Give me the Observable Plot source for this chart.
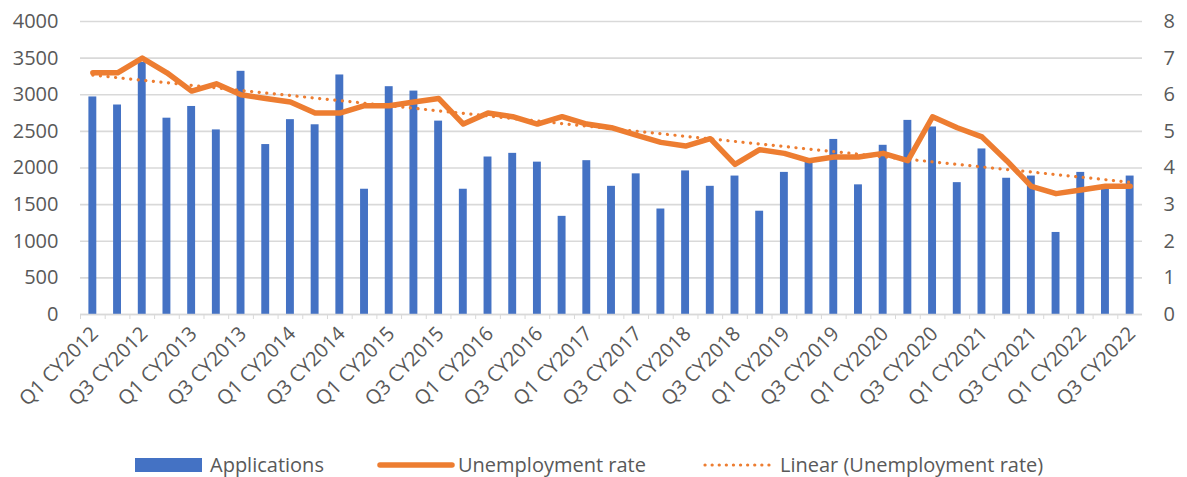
<!DOCTYPE html>
<html><head><meta charset="utf-8">
<script src="https://cdn.jsdelivr.net/npm/d3@7"></script>
<script src="https://cdn.jsdelivr.net/npm/@observablehq/plot@0.6"></script>
<style>
html,body{margin:0;background:#fff;font-family:"Open Sans",sans-serif;overflow:hidden;}
#chart svg{max-width:none;display:block;}
#legend{position:relative;height:29px;font-size:20px;color:#595959;}
.item{position:absolute;top:5px;height:24px;line-height:24px;display:flex;align-items:center;white-space:nowrap;}
</style></head><body><div id="chart"></div><div id="legend"></div>
<script>
const quarters = ["Q1 CY2012","Q2 CY2012","Q3 CY2012","Q4 CY2012","Q1 CY2013","Q2 CY2013","Q3 CY2013","Q4 CY2013",
"Q1 CY2014","Q2 CY2014","Q3 CY2014","Q4 CY2014","Q1 CY2015","Q2 CY2015","Q3 CY2015","Q4 CY2015",
"Q1 CY2016","Q2 CY2016","Q3 CY2016","Q4 CY2016","Q1 CY2017","Q2 CY2017","Q3 CY2017","Q4 CY2017",
"Q1 CY2018","Q2 CY2018","Q3 CY2018","Q4 CY2018","Q1 CY2019","Q2 CY2019","Q3 CY2019","Q4 CY2019",
"Q1 CY2020","Q2 CY2020","Q3 CY2020","Q4 CY2020","Q1 CY2021","Q2 CY2021","Q3 CY2021","Q4 CY2021",
"Q1 CY2022","Q2 CY2022","Q3 CY2022"];
const applications = [2970,2860,3440,2680,2840,2520,3320,2320,2660,2590,
3270,1710,3110,3050,2640,1710,2150,2200,2080,1340,
2100,1750,1920,1440,1960,1750,1890,1410,1940,2080,
2390,1770,2310,2650,2560,1800,2260,1860,1890,1120,
1940,1730,1890];
const unemploymentRate = [6.6,6.6,7.0,6.6,6.1,6.3,6.0,5.9,5.8,5.5,
5.5,5.7,5.7,5.8,5.9,5.2,5.5,5.4,5.2,5.4,
5.2,5.1,4.9,4.7,4.6,4.8,4.1,4.5,4.4,4.2,
4.3,4.3,4.4,4.2,5.4,5.1,4.85,4.2,3.5,3.3,
3.4,3.5,3.5];
const leftTicks = [0,500,1000,1500,2000,2500,3000,3500,4000];
const rightTicks = [0,1,2,3,4,5,6,7,8];
const labelTicks = quarters.filter((d,i)=>i%2===0);
const seriesNames = ["Applications","Unemployment rate","Linear (Unemployment rate)"];
const rateToLeft = 500;

const blue = "#4472C4", orange = "#ED7D31", grid = "#d9d9d9", text = "#595959";

const data = quarters.map((q,i)=>({q, i, apps: applications[i], rate: unemploymentRate[i]}));
// least-squares linear trend of the unemployment rate (as Excel's "Linear" trendline)
const mx = d3.mean(data, d=>d.i), my = d3.mean(data, d=>d.rate);
const slope = d3.sum(data, d=>(d.i-mx)*(d.rate-my)) / d3.sum(data, d=>(d.i-mx)**2);
const intercept = my - slope*mx;
data.forEach(d => d.trend = intercept + slope*d.i);

const W = 1187, ML = 80, MR = 45;
const step = (W - ML - MR) / quarters.length;

const chart = Plot.plot({
  width: W, height: 448,
  marginTop: 21, marginLeft: ML, marginRight: MR, marginBottom: 134,
  style: {fontFamily: "Open Sans", fontSize: "20px", color: text, background: "#fff", overflow: "visible"},
  x: {type: "band", domain: quarters, paddingInner: 0.68, paddingOuter: 0.34, round: false, axis: null},
  y: {domain: [0, 4000], axis: null},
  marks: [
    Plot.gridY(leftTicks, {stroke: grid, strokeOpacity: 1, strokeWidth: 1.6}),
    Plot.axisY(leftTicks, {anchor: "left", tickSize: 0, tickPadding: 22, fill: text, label: null, tickFormat: d => String(d)}),
    Plot.axisY(rightTicks.map(v => v*rateToLeft), {anchor: "right", tickSize: 0, tickPadding: 21, fill: text, label: null, tickFormat: d => String(d/rateToLeft)}),
    Plot.barY(data, {x: "q", y: "apps", fill: blue}),
    Plot.ruleY([0], {stroke: grid, strokeWidth: 1.6}),
    Plot.axisX({tickSize: 5, tickFormat: () => "", dx: -step/2, stroke: grid, label: null}),
    Plot.axisX(labelTicks, {tickSize: 0, tickRotate: -45, tickPadding: 16, dx: 2, fill: text, label: null}),
    Plot.line(data, {x: "q", y: d => d.rate*rateToLeft, stroke: orange, strokeWidth: 5.5, strokeLinejoin: "round", strokeLinecap: "round"}),
    Plot.line(data, {x: "q", y: d => d.trend*rateToLeft, stroke: orange, strokeWidth: 3.2, strokeDasharray: "0.1 7.5", strokeLinecap: "round"})
  ]
});
document.getElementById("chart").appendChild(chart);

const legend = d3.select("#legend");
const i1 = legend.append("div").attr("class","item").style("left","135px");
i1.append("div").style("width","67px").style("height","14px").style("background",blue).style("margin-right","8px");
i1.append("span").text(seriesNames[0]);
const i2 = legend.append("div").attr("class","item").style("left","377px");
const s2 = i2.append("svg").attr("width",78).attr("height",10).style("margin-right","3px");
s2.append("line").attr("x1",3).attr("x2",75).attr("y1",5).attr("y2",5).attr("stroke",orange).attr("stroke-width",5.5).attr("stroke-linecap","round");
i2.append("span").text(seriesNames[1]);
const i3 = legend.append("div").attr("class","item").style("left","703px");
const s3 = i3.append("svg").attr("width",68).attr("height",10).style("margin-right","9px");
s3.append("line").attr("x1",2).attr("x2",66).attr("y1",5).attr("y2",5).attr("stroke",orange).attr("stroke-width",3.2).attr("stroke-dasharray","0.1 7").attr("stroke-linecap","round");
i3.append("span").text(seriesNames[2]);
</script>
</body></html>
